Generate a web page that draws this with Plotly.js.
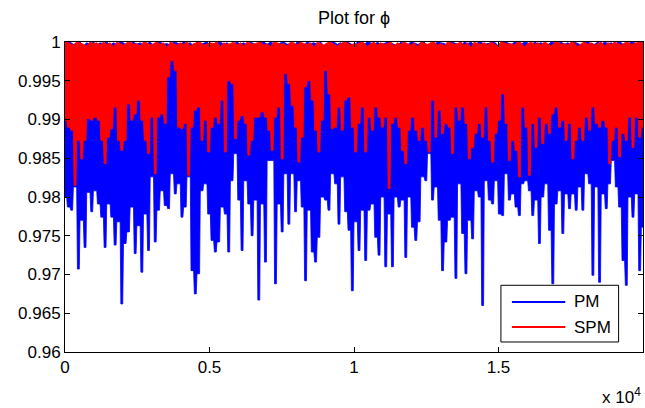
<!DOCTYPE html>
<html>
<head>
<meta charset="utf-8">
<script src="https://cdn.plot.ly/plotly-3.0.1.min.js"></script>
<style>html,body{margin:0;padding:0;background:#fff;}#chart{width:645px;height:408px;}</style>
</head>
<body>
<div id="chart"></div>
<script>
// Number of MCMC iterations shown on the x axis
const nIter = 20000;

// PM chain: lower excursions per column
const pmLow = [
0.9800,0.9787,0.9783,0.9813,0.9707,0.9770,0.9735,0.9806,0.9781,0.9808,0.9791,0.9774,0.9735,0.9791,0.9774,0.9738,0.9768,0.9662,0.9740,0.9755,0.9787,0.9727,0.9763,0.9703,0.9778,0.9731,0.9826,0.9742,0.9783,
0.9808,0.9789,0.9785,0.9830,0.9804,0.9817,0.9774,0.9787,0.9826,0.9705,0.9675,0.9701,0.9808,0.9817,0.9778,0.9744,0.9729,0.9742,0.9787,0.9778,0.9729,0.9821,0.9856,0.9796,0.9731,0.9821,0.9791,0.9750,0.9796,
0.9667,0.9791,0.9716,0.9847,0.9847,0.9688,0.9791,0.9755,0.9830,0.9765,0.9830,0.9781,0.9821,0.9787,0.9692,0.9783,0.9729,0.9716,0.9748,0.9800,0.9796,0.9783,0.9830,0.9817,0.9765,0.9826,0.9781,0.9757,0.9679,
0.9768,0.9731,0.9783,0.9718,0.9783,0.9791,0.9748,0.9725,0.9800,0.9710,0.9778,0.9710,0.9800,0.9787,0.9796,0.9722,0.9800,0.9761,0.9744,0.9768,0.9826,0.9821,0.9856,0.9796,0.9813,0.9770,0.9705,0.9742,0.9770,
0.9774,0.9695,0.9817,0.9753,0.9701,0.9770,0.9746,0.9808,0.9800,0.9660,0.9821,0.9796,0.9791,0.9821,0.9778,0.9776,0.9830,0.9796,0.9804,0.9787,0.9776,0.9817,0.9821,0.9808,0.9776,0.9796,0.9740,0.9800,0.9817,
0.9757,0.9688,0.9791,0.9808,0.9753,0.9804,0.9785,0.9804,0.9783,0.9813,0.9783,0.9830,0.9817,0.9699,0.9813,0.9690,0.9804,0.9785,0.9817,0.9847,0.9813,0.9787,0.9718,0.9686,0.9800,0.9774,0.9804,0.9705,0.9761
];

// PM chain: upper excursions between columns
const pmHigh = [
.9999,1,.9997,.9998,1,.9995,.9999,.9997,1,.9996,
.9999,.9998,1,.9996,.9999,.9997,1,.9999,.9995,.9998,
1,.9997,.9999,.9996,.9998,1,.9995,.9999,1,.9997,
.9998,.9996,1,.9999,.9997,1,.9998,.9999,.9995,1,
.9997,.9999,1,.9996,.9998,.9999,1,.9997,.9999,.9995,
.9998,1,.9997,.9999,.9996,1,.9998,.9995,.9999,1,
.9997,1,.9998,.9996,.9999,1,.9997,.9998,.9995,1,
.9999,.9996,1,.9998,.9999,.9997,1,.9995,.9998,.9999,
1,.9997,.9999,.9996,1,.9998,.9995,1,.9999,.9997,
1,.9999,.9996,1,.9997,.9998,1,.9999,.9997,.9995,
1,.9998,.9996,1,.9999,.9997,.9998,1,.9995,.9999,
.9997,1,.9999,.9998,.9996,1,.9999,.9997,.9995,1,
.9998,1,.9996,.9999,1,.9997,.9998,.9999,1,.9996,
.9998,1,.9999,.9996,1,.9998,.9997,1,.9999,.9995,
1,.9998,.9999,.9997,.9996,1,.9999,.9998,1,.9997,
.9999,.9997,1,.9998,.9996,.9999,1,.9998,.9997,1,
.9997,1,.9998,.9999,.9996,1,.9999,.9995,.9998,1,
.9999,.9997,1
];

// SPM chain: lower excursions per column
const spmLow = [
0.9899,0.9890,0.9886,0.9815,0.9873,0.9849,0.9873,0.9901,0.9899,0.9903,0.9899,0.9873,0.9843,0.9877,0.9888,0.9916,0.9873,0.9860,0.9873,0.9920,0.9899,0.9907,0.9925,0.9899,0.9873,0.9856,0.9903,0.9830,0.9903,
0.9907,0.9895,0.9955,0.9976,0.9963,0.9890,0.9888,0.9895,0.9828,0.9890,0.9912,0.9916,0.9873,0.9899,0.9858,0.9890,0.9903,0.9895,0.9925,0.9858,0.9950,0.9946,0.9875,0.9899,0.9905,0.9895,0.9854,0.9873,0.9903,
0.9903,0.9910,0.9903,0.9886,0.9860,0.9903,0.9916,0.9849,0.9959,0.9946,0.9918,0.9890,0.9845,0.9877,0.9942,0.9950,0.9925,0.9886,0.9858,0.9899,0.9963,0.9933,0.9888,0.9890,0.9916,0.9886,0.9925,0.9929,0.9890,
0.9858,0.9895,0.9916,0.9858,0.9903,0.9886,0.9916,0.9903,0.9890,0.9903,0.9811,0.9895,0.9903,0.9890,0.9860,0.9843,0.9886,0.9903,0.9886,0.9873,0.9890,0.9873,0.9858,0.9925,0.9877,0.9912,0.9882,0.9895,0.9890,
0.9856,0.9916,0.9899,0.9916,0.9895,0.9849,0.9864,0.9882,0.9895,0.9877,0.9916,0.9873,0.9845,0.9882,0.9899,0.9933,0.9895,0.9847,0.9873,0.9860,0.9826,0.9916,0.9890,0.9828,0.9895,0.9864,0.9903,0.9869,0.9895,
0.9882,0.9907,0.9916,0.9890,0.9899,0.9873,0.9895,0.9849,0.9873,0.9890,0.9873,0.9903,0.9886,0.9916,0.9895,0.9890,0.9899,0.9890,0.9843,0.9873,0.9890,0.9852,0.9882,0.9873,0.9903,0.9864,0.9903,0.9877,0.9890
];

// SPM chain: upper excursions between columns
const spmHigh = [
1,.9998,.9996,1,.9999,.9997,.9995,1,.9998,.9999,
.9996,1,.9997,.9999,.9994,1,.9998,.9996,.9999,1,
.9997,.9998,.9995,1,.9999,.9996,.9998,1,.9997,.9999,
.9993,1,.9998,.9996,.9999,.9997,1,.9995,.9998,.9999,
1,.9996,.9997,.9999,.9998,1,.9994,.9999,.9997,.9998,
1,.9996,.9999,.9995,1,.9998,.9997,.9999,1,.9996,
.9998,.9994,1,.9999,.9997,.9998,.9995,1,.9999,.9996,
1,.9998,.9997,.9999,.9993,1,.9998,.9996,.9999,1,
.9997,.9995,.9998,1,.9999,.9996,.9998,.9997,1,.9999,
.9994,.9998,1,.9996,.9999,.9997,.9998,1,.9995,.9999,
.9997,1,.9998,.9996,.9999,.9994,1,.9998,.9997,.9999,
1,.9996,.9998,.9995,1,.9999,.9997,.9998,1,.9996,
.9999,.9993,1,.9998,.9997,.9999,.9996,1,.9998,.9995,
1,.9999,.9997,.9998,.9996,1,.9999,.9994,.9998,1,
.9997,.9999,.9996,1,.9998,.9995,.9999,1,.9997,.9998,
.9996,1,.9999,.9994,.9998,1,.9997,.9999,.9996,.9998,
1,.9995,.9999,.9997,1,.9998,.9996,.9999,1,.9997,
.9998,1,.9999
];

const seriesNames = ['PM', 'SPM'];
const seriesColors = ['#0000ff', '#ff0000'];
const yTickVals = [0.96,0.965,0.97,0.975,0.98,0.985,0.99,0.995,1];
const yTickText = ['0.96','0.965','0.97','0.975','0.98','0.985','0.99','0.995','1'];
const xTickVals = [0,5000,10000,15000,20000];
const xTickText = ['0','0.5','1','1.5','2'];

// Build the trace band as a closed outline: upper excursions on top,
// narrow needles down to each lower excursion underneath.
function band(low, high) {
  const n = low.length;
  const step = nIter / (n - 1);
  const hw = step * 0.28;
  const xs = [], ys = [];
  xs.push(-hw); ys.push(high[0]);
  for (let i = 0; i < n - 1; i++) { xs.push(i * step + step / 2); ys.push(high[i]); }
  xs.push((n - 1) * step + hw); ys.push(high[n - 2]);
  for (let i = n - 1; i >= 0; i--) {
    xs.push(i * step + hw); ys.push(low[i]);
    xs.push(i * step - hw); ys.push(low[i]);
    if (i > 0) { xs.push(i * step - step / 2); ys.push(Math.max(low[i], low[i - 1])); }
  }
  xs.push(-hw); ys.push(high[0]);
  return {x: xs, y: ys};
}

const pm = band(pmLow, pmHigh);
const spm = band(spmLow, spmHigh);

const fam = '"Liberation Sans", Arial, Helvetica, sans-serif';
const font = {family: fam, size: 17, color: '#000'};

const data = [
  {x: pm.x, y: pm.y, type: 'scatter', mode: 'lines', fill: 'toself', fillcolor: seriesColors[0],
   line: {color: seriesColors[0], width: 0.8}, showlegend: false, hoverinfo: 'skip'},
  {x: spm.x, y: spm.y, type: 'scatter', mode: 'lines', fill: 'toself', fillcolor: seriesColors[1],
   line: {color: seriesColors[1], width: 0.8}, showlegend: false, hoverinfo: 'skip'}
];

// Legend drawn MATLAB-style (box, long line samples, labels)
const legBox = {x0: 0.7542, x1: 0.9578, y0: 0.0323, y1: 0.2152};
const legLineX = [0.7732, 0.8655];
const legRowY = [0.1613, 0.0806];
const legTextX = 0.8771;

const shapes = [
  {type: 'rect', xref: 'paper', yref: 'paper', x0: legBox.x0, x1: legBox.x1, y0: legBox.y0, y1: legBox.y1,
   line: {color: '#000', width: 1}, fillcolor: '#fff', layer: 'above'}
];
const annotations = [];
seriesNames.forEach((nm, k) => {
  shapes.push({type: 'line', xref: 'paper', yref: 'paper', x0: legLineX[0], x1: legLineX[1], y0: legRowY[k], y1: legRowY[k],
    line: {color: seriesColors[k], width: 2}, layer: 'above'});
  annotations.push({text: nm, xref: 'paper', yref: 'paper', x: legTextX, y: legRowY[k], xanchor: 'left', yanchor: 'middle',
    showarrow: false, font: font});
});
annotations.push({text: 'x 10<sup>4</sup>', xref: 'paper', yref: 'paper', x: 1, y: -0.1, xanchor: 'right', yanchor: 'top',
  showarrow: false, font: font});

const layout = {
  width: 645, height: 408,
  margin: {l: 65, r: 2, t: 42, b: 56, pad: 0},
  paper_bgcolor: '#fff', plot_bgcolor: '#fff',
  font: font,
  showlegend: false,
  title: {text: 'Plot for ϕ', xref: 'paper', x: 0.5, xanchor: 'center', yref: 'container', y: 0.956, yanchor: 'middle',
          font: {family: fam, size: 18, color: '#000'}},
  xaxis: {
    range: [0, nIter], tickvals: xTickVals, ticktext: xTickText,
    ticks: 'inside', ticklen: 5, tickwidth: 1, tickcolor: '#000',
    showline: true, linecolor: '#000', linewidth: 1, mirror: 'ticks',
    showgrid: false, zeroline: false, tickfont: font
  },
  yaxis: {
    range: [0.96, 1], tickvals: yTickVals, ticktext: yTickText,
    ticks: 'inside', ticklen: 5, tickwidth: 1, tickcolor: '#000',
    showline: true, linecolor: '#000', linewidth: 1, mirror: 'ticks',
    showgrid: false, zeroline: false, tickfont: font
  },
  shapes: shapes,
  annotations: annotations
};

Plotly.newPlot('chart', data, layout, {displayModeBar: false, staticPlot: true});
</script>
</body>
</html>
